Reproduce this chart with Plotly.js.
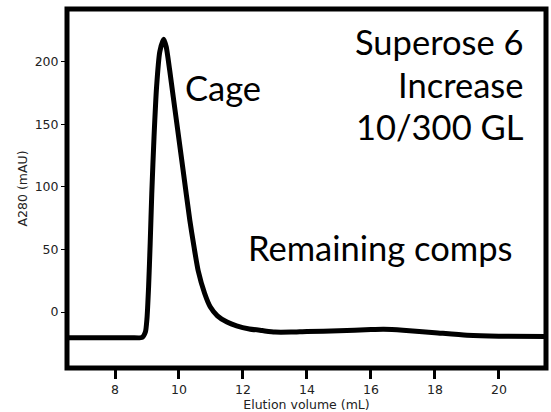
<!DOCTYPE html>
<html>
<head>
<meta charset="utf-8">
<script src="https://cdn.plot.ly/plotly-3.0.1.min.js"></script>
<style>html,body{margin:0;padding:0;background:#fff;}#chart{width:551px;height:412px;}</style>
</head>
<body>
<div id="chart"></div>
<script>
// Elution volume (mL)
var volume = [6.5, 7.5, 8.5, 8.85, 8.95, 9.0, 9.05, 9.1, 9.15, 9.22, 9.3, 9.4, 9.52, 9.6, 9.71, 9.82, 9.92, 10.13, 10.34, 10.47, 10.6, 10.8, 10.98, 11.2, 11.5, 11.8, 12.2, 12.6, 13.0, 13.5, 14.0, 15.0, 16.0, 16.4, 17.0, 18.0, 19.0, 20.0, 21.5];
// A280 (mAU)
var a280 = [-20.5, -20.5, -20.5, -20.3, -16, -5, 20, 55, 95, 140, 180, 208, 218, 212, 193, 172, 153, 113, 73, 52, 33, 15, 4, -3, -8, -11, -13.5, -14.8, -16, -16, -15.5, -15, -14, -13.8, -14.5, -16.5, -18.5, -19.3, -19.5];
var xTicks = [8, 10, 12, 14, 16, 18, 20];
var yTicks = [0, 50, 100, 150, 200];
var columnLines = ["Superose 6", "Increase", "10/300 GL"];
var labels = {
  cage: "Cage",
  rest: "Remaining comps",
  xTitle: "Elution volume (mL)",
  yTitle: "A280 (mAU)"
};

var trace = {
  x: volume, y: a280, type: "scatter", mode: "lines",
  line: {color: "#000", width: 5, shape: "spline", smoothing: 0.6},
  hoverinfo: "skip"
};

var tickFont = {family: "DejaVu Sans", size: 12.5, color: "#222"};
var annFont = {family: "Lato", size: 34.5, color: "#000"};

var columnY = [0.9708, 0.851, 0.734];
var annotations = columnLines.map(function (t, i) {
  return {text: t, xref: "paper", yref: "paper", x: 0.958, y: columnY[i],
    xanchor: "right", yanchor: "top", align: "right", showarrow: false, font: annFont};
});
annotations.push({text: labels.cage, xref: "paper", yref: "paper", x: 0.243, y: 0.8454,
  xanchor: "left", yanchor: "top", align: "left", showarrow: false, font: annFont});
annotations.push({text: labels.rest, xref: "paper", yref: "paper", x: 0.3728, y: 0.3997,
  xanchor: "left", yanchor: "top", align: "left", showarrow: false, font: annFont});

var layout = {
  width: 551, height: 412,
  margin: {l: 67, r: 5, t: 9, b: 44, pad: 0},
  paper_bgcolor: "#fff", plot_bgcolor: "#fff",
  showlegend: false,
  xaxis: {
    range: [6.5, 21.47], tickvals: xTicks, ticktext: xTicks.map(String),
    ticks: "outside", ticklen: 10, tickwidth: 3, tickcolor: "#000",
    showgrid: false, zeroline: false, showline: false,
    tickfont: tickFont,
    title: {text: labels.xTitle, font: tickFont, standoff: 0}
  },
  yaxis: {
    range: [-44.7, 242.1], tickvals: yTicks, ticktext: yTicks.map(String),
    ticks: "outside", ticklen: 5, tickwidth: 1, tickcolor: "#000",
    showgrid: false, zeroline: false, showline: false,
    tickfont: tickFont,
    title: {text: labels.yTitle, font: tickFont, standoff: 4}
  },
  shapes: [{
    type: "rect", xref: "paper", yref: "paper", x0: 0, x1: 1, y0: 0, y1: 1,
    line: {color: "#000", width: 5}, fillcolor: "rgba(0,0,0,0)", layer: "above"
  }],
  annotations: annotations
};

Plotly.newPlot("chart", [trace], layout, {displayModeBar: false, staticPlot: true});
</script>
</body>
</html>
